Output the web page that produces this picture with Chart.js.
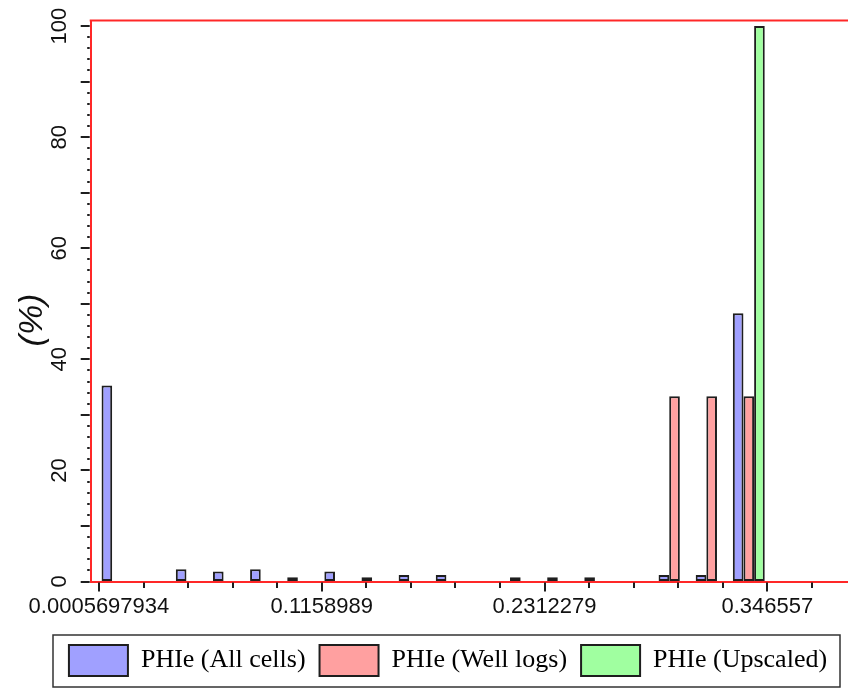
<!DOCTYPE html>
<html>
<head>
<meta charset="utf-8">
<title>PHIe histogram</title>
<script src="https://cdn.jsdelivr.net/npm/chart.js@4.4.1/dist/chart.umd.min.js"></script>
<style>
  html, body { margin: 0; padding: 0; background: #ffffff; overflow: hidden; }
  #wrap { width: 848px; height: 688px; }
</style>
</head>
<body>
<div id="wrap"><canvas id="hist" width="848" height="688"></canvas></div>
<script>
// PHIe histogram: 18 equal-width bins between the minimum and maximum porosity
const histMin = 0.0005697934;
const histMax = 0.346557;
const binCount = 18;

const seriesNames = ['PHIe (All cells)', 'PHIe (Well logs)', 'PHIe (Upscaled)'];
const allCells = [35.3, 0, 2.2, 1.8, 2.2, 0.75, 1.8, 0.75, 1.15, 1.15, 0, 0.75, 0.75, 0.75, 0, 1.15, 1.15, 48.3];
const wellLogs = [0, 0, 0, 0, 0, 0, 0, 0, 0, 0, 0, 0, 0, 0, 0, 33.33, 33.33, 33.33];
const upscaled = [0, 0, 0, 0, 0, 0, 0, 0, 0, 0, 0, 0, 0, 0, 0, 0, 0, 100];

const xTickValues = [0.0005697934, 0.1158989, 0.2312279, 0.346557];
const xTickLabels = ['0.0005697934', '0.1158989', '0.2312279', '0.346557'];
const yTickValues = [0, 20, 40, 60, 80, 100];
const yTickLabels = ['0', '20', '40', '60', '80', '100'];

const xMin = -0.0037;
const xMax = 0.3883;
const yMax = 101;

const RED = 'rgb(255,40,40)';
const EDGE = '#1e1e1e';
const FILLS = ['rgb(160,160,255)', 'rgb(255,160,160)', 'rgb(160,255,160)'];

// Prefer a narrow sans for the axis numbers when it is installed
function tickFont() {
  const c = document.createElement('canvas').getContext('2d');
  c.font = "40px 'Liberation Sans Narrow', monospace";
  const a = c.measureText('0123456789').width;
  c.font = '40px monospace';
  const b = c.measureText('0123456789').width;
  return a !== b ? { family: "'Liberation Sans Narrow'", size: 25 } : { family: "'Liberation Sans'", size: 22 };
}
const TF = tickFont();

const binWidth = (histMax - histMin) / binCount;
const toPoints = vals => vals.map((v, i) => ({ x: histMin + (i + 0.5) * binWidth, y: v }));

// Red frame on top, axis tick marks, y-axis title and legend box
const decorations = {
  id: 'decorations',
  afterDraw(chart) {
    const { ctx, chartArea: a, scales: { x, y } } = chart;
    ctx.save();
    ctx.strokeStyle = RED;
    ctx.lineWidth = 2;
    ctx.beginPath();
    ctx.moveTo(a.left - 1, a.top);
    ctx.lineTo(a.right, a.top);
    ctx.stroke();

    ctx.strokeStyle = EDGE;
    ctx.lineWidth = 2;
    const xStep = (xTickValues[1] - xTickValues[0]) / 5;
    for (let k = -5; k < 40; k++) {
      const v = xTickValues[0] + k * xStep;
      if (v < x.min || v > x.max) continue;
      const px = Math.round(x.getPixelForValue(v));
      const len = k % 5 === 0 ? 9 : 5.5;
      ctx.beginPath();
      ctx.moveTo(px, a.bottom + 1);
      ctx.lineTo(px, a.bottom + 1 + len);
      ctx.stroke();
    }
    for (let v = 0; v <= 100; v += 2) {
      const py = Math.round(y.getPixelForValue(v));
      const len = v % 10 === 0 ? 9 : 2.5;
      ctx.beginPath();
      ctx.moveTo(a.left - 1, py);
      ctx.lineTo(a.left - 1 - len, py);
      ctx.stroke();
    }

    // y-axis title
    ctx.save();
    ctx.translate(32.5, 320);
    ctx.rotate(-Math.PI / 2);
    ctx.fillStyle = '#111';
    ctx.font = "italic 34px 'Liberation Sans'";
    ctx.textAlign = 'center';
    ctx.textBaseline = 'middle';
    ctx.fillText('(%)', 0, 0);
    ctx.restore();

    // frame around the legend
    const lg = chart.legend;
    const hb = lg.legendHitBoxes;
    if (hb && hb.length) {
      const top = hb[0].top - 10;
      ctx.strokeStyle = '#333';
      ctx.lineWidth = 1.5;
      ctx.strokeRect(lg.left + 5, top, lg.right - lg.left - 13, 52);
    }
    ctx.restore();
  }
};

new Chart(document.getElementById('hist'), {
  type: 'bar',
  data: {
    datasets: [
      { label: seriesNames[0], data: toPoints(allCells), backgroundColor: FILLS[0], borderColor: EDGE, borderWidth: 2 },
      { label: seriesNames[1], data: toPoints(wellLogs), backgroundColor: FILLS[1], borderColor: EDGE, borderWidth: 2 },
      { label: seriesNames[2], data: toPoints(upscaled), backgroundColor: FILLS[2], borderColor: EDGE, borderWidth: 2 }
    ]
  },
  options: {
    responsive: false,
    animation: false,
    devicePixelRatio: 1,
    layout: { padding: { top: 20.5, left: 48, right: 0, bottom: 2 } },
    datasets: { bar: { categoryPercentage: 0.86, barPercentage: 1, borderSkipped: false } },
    plugins: {
      legend: {
        position: 'bottom',
        labels: {
          boxWidth: 59, boxHeight: 31, padding: 14, color: '#000',
          font: { family: "'Liberation Serif'", size: 26 }
        }
      },
      tooltip: { enabled: false }
    },
    scales: {
      x: {
        type: 'linear', min: xMin, max: xMax, offset: false,
        grid: { display: true, drawOnChartArea: false, drawTicks: true, tickLength: 8, tickColor: 'rgba(0,0,0,0)' },
        border: { display: true, color: RED, width: 2, z: 1 },
        afterBuildTicks: s => { s.ticks = xTickValues.map(v => ({ value: v })); },
        afterFit: s => { s.height = 49.5; },
        ticks: {
          autoSkip: false, maxRotation: 0, minRotation: 0, padding: 4, color: '#111',
          font: TF, callback: (v, i) => xTickLabels[i]
        }
      },
      y: {
        type: 'linear', min: 0, max: yMax,
        grid: { display: true, drawOnChartArea: false, drawTicks: true, tickLength: 8, tickColor: 'rgba(0,0,0,0)' },
        border: { display: true, color: RED, width: 2, z: 1 },
        afterBuildTicks: s => { s.ticks = yTickValues.map(v => ({ value: v })); },
        afterFit: s => { s.width = 42.7; },
        ticks: {
          autoSkip: false, minRotation: 90, maxRotation: 90, crossAlign: 'center', padding: 4, color: '#111',
          font: TF, callback: (v, i) => yTickLabels[i]
        }
      }
    }
  },
  plugins: [decorations]
});
</script>
</body>
</html>
